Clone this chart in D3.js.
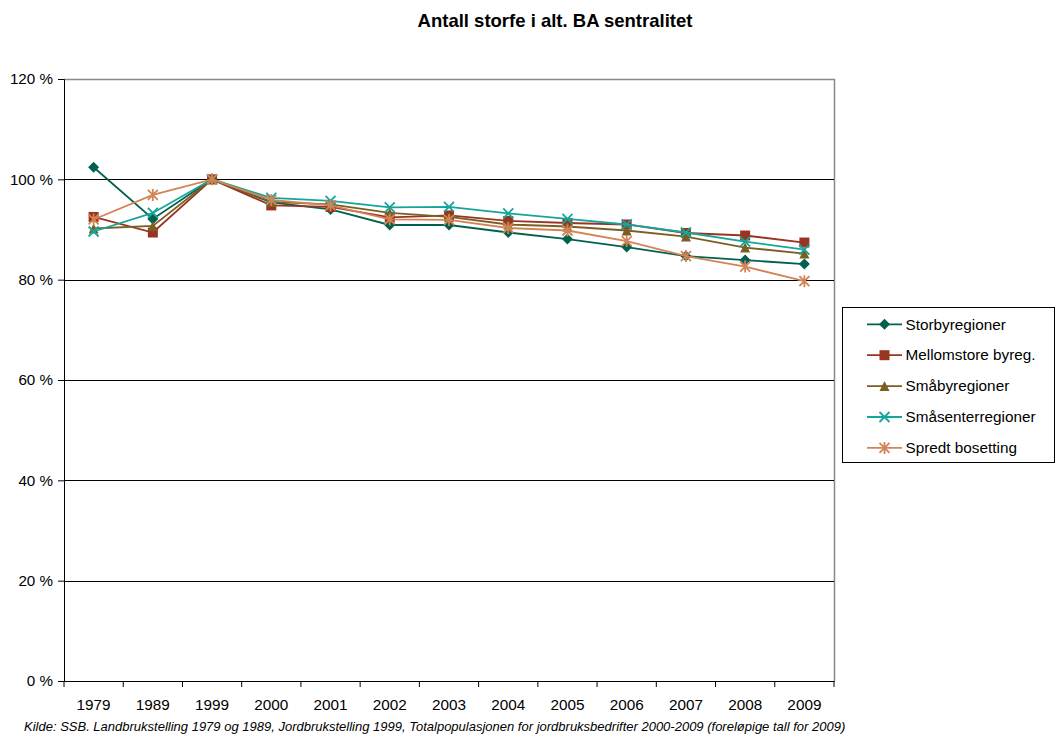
<!DOCTYPE html>
<html><head><meta charset="utf-8">
<script src="https://cdn.jsdelivr.net/npm/d3@7"></script>
<style>body{margin:0;background:#fff}svg{display:block;font-family:"Liberation Sans",Arial,sans-serif}</style>
</head><body><svg id="c" width="1057" height="736"></svg>
<script>
const years = ["1979","1989","1999","2000","2001","2002","2003","2004","2005","2006","2007","2008","2009"];
const seriesNames = ["Storbyregioner","Mellomstore byreg.","Småbyregioner","Småsenterregioner","Spredt bosetting"];
const storby     = [102.4, 92.1, 100, 95.4, 94.0, 90.9, 90.9, 89.4, 88.1, 86.5, 84.7, 83.9, 83.1];
const mellomstore= [92.5, 89.4, 100, 94.8, 94.5, 92.4, 92.8, 91.7, 91.3, 91.0, 89.3, 88.8, 87.4];
const smaby      = [90.2, 90.7, 100, 95.5, 95.0, 93.3, 92.5, 91.0, 90.6, 89.8, 88.6, 86.4, 85.2];
const smasenter  = [89.6, 93.3, 100, 96.3, 95.7, 94.4, 94.5, 93.2, 92.1, 91.0, 89.4, 87.6, 86.0];
const spredt     = [92.0, 96.9, 100, 95.9, 94.8, 92.0, 91.9, 90.3, 89.8, 87.7, 84.7, 82.6, 79.7];
const yTicks = [0, 20, 40, 60, 80, 100, 120];
const colors = ["#00614f","#993322","#7c5e22","#16a59a","#d38456"];
const symbols = ["diamond","square","triangle","x","star"];
const allSeries = [storby, mellomstore, smaby, smasenter, spredt];

const FONT = "Liberation Sans, Arial, sans-serif";
const svg = d3.select("#c");
const L = 64, R = 834, T = 79, B = 681;
const x = d3.scaleBand().domain(years).range([L, R]);
const y = d3.scaleLinear().domain([0, 120]).range([B, T]);

// title
svg.append("text").attr("x", 555).attr("y", 27).attr("text-anchor","middle")
  .attr("font-size", 18.5).attr("font-weight","bold").text("Antall storfe i alt. BA sentralitet");

// plot border (top/right gray)
svg.append("path").attr("d", `M${L},${T+0.5}H${R+0.5}V${B}`).attr("fill","none").attr("stroke","#888").attr("stroke-width",1.5);

// gridlines
svg.append("g").selectAll("line").data(yTicks.filter(d => d > 0 && d < 120)).join("line")
  .attr("x1", L).attr("x2", R).attr("y1", d => Math.round(y(d))+0.5).attr("y2", d => Math.round(y(d))+0.5)
  .attr("stroke","#000").attr("stroke-width",1);

// y axis
const yAxis = svg.append("g").attr("transform",`translate(${L},0)`)
  .call(d3.axisLeft(y).tickValues(yTicks).tickSize(6).tickPadding(5).tickFormat(d => d + " %"));
yAxis.selectAll("text").attr("font-size", 15.2).attr("fill","#000").attr("font-family",FONT);
yAxis.select(".domain").attr("stroke","#000");

// x axis
const xAxis = svg.append("g").attr("transform",`translate(0,${B})`)
  .call(d3.axisBottom(x).tickSize(0).tickPadding(18));
xAxis.selectAll("text").attr("font-size", 15.3).attr("fill","#000").attr("font-family",FONT);
xAxis.select(".domain").attr("stroke","#000");
// category boundary ticks
xAxis.append("g").selectAll("line").data(years.concat(["end"])).join("line")
  .attr("x1", (d,i) => L + i*x.step()).attr("x2", (d,i) => L + i*x.step())
  .attr("y1", 0).attr("y2", 6).attr("stroke","#000");

function marker(g, type, color, s) {
  if (type === "diamond") {
    g.append("path").attr("d", `M0,${-s-0.5}L${s+0.5},0L0,${s+0.5}L${-s-0.5},0Z`).attr("fill",color);
  } else if (type === "square") {
    g.append("rect").attr("x",-s).attr("y",-s).attr("width",2*s).attr("height",2*s).attr("fill",color);
  } else if (type === "triangle") {
    g.append("path").attr("d", `M0,${-s}L${s},${s}L${-s},${s}Z`).attr("fill",color);
  } else if (type === "x") {
    g.append("path").attr("d", `M${-s},${-s}L${s},${s}M${-s},${s}L${s},${-s}`).attr("stroke",color).attr("stroke-width",1.8);
  } else if (type === "star") {
    g.append("path").attr("d", `M${-s},${-s}L${s},${s}M${-s},${s}L${s},${-s}M0,${-s-1}V${s+1}`).attr("stroke",color).attr("stroke-width",1.8);
  }
}

const line = d3.line().x((d,i) => x(years[i]) + x.bandwidth()/2).y(d => y(d));
allSeries.forEach((s, k) => {
  svg.append("path").datum(s).attr("d", line).attr("fill","none").attr("stroke", colors[k]).attr("stroke-width",1.8);
  const g = svg.append("g");
  s.forEach((v,i) => {
    const mg = g.append("g").attr("transform",`translate(${x(years[i]) + x.bandwidth()/2},${y(v)})`);
    marker(mg, symbols[k], colors[k], 5);
  });
});

// legend
const lg = svg.append("g");
lg.append("rect").attr("x",842.5).attr("y",307.5).attr("width",212).attr("height",155)
  .attr("fill","#fff").attr("stroke","#000").attr("stroke-width",1);
seriesNames.forEach((n,k) => {
  const yy = 324.3 + k*30.9;
  lg.append("line").attr("x1",867).attr("x2",902).attr("y1",yy).attr("y2",yy).attr("stroke",colors[k]).attr("stroke-width",1.8);
  const mg = lg.append("g").attr("transform",`translate(884.5,${yy})`);
  marker(mg, symbols[k], colors[k], 5);
  lg.append("text").attr("x",905.5).attr("y",yy+5.2).attr("font-size",15.3).text(n);
});

// source
svg.append("text").attr("x",24).attr("y",731).attr("font-size",13).attr("font-style","italic")
  .text("Kilde: SSB. Landbrukstelling 1979 og 1989, Jordbrukstelling 1999, Totalpopulasjonen for jordbruksbedrifter 2000-2009 (foreløpige tall for 2009)");
</script></body></html>
